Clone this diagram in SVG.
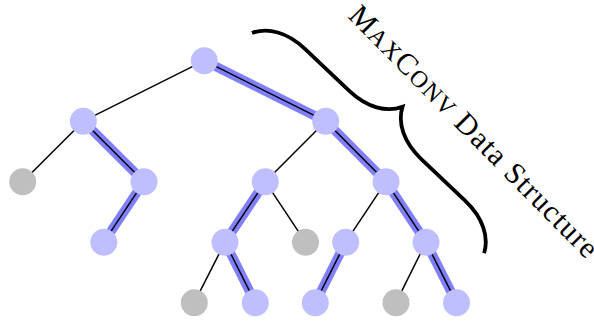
<svg xmlns="http://www.w3.org/2000/svg" width="594" height="322" viewBox="0 0 594 322">
<style>
.hl{stroke:#8080FF;stroke-width:9.5;fill:none}
.e{stroke:#000;stroke-width:1.5;fill:none}
.n{fill:#BFBFFF}
.g{fill:#BFBFBF}
.brace{stroke:#000;stroke-width:3.8;fill:none;stroke-linecap:butt;stroke-linejoin:miter}
.lbl{font-family:"Liberation Serif","Times New Roman",serif;font-size:30px;fill:#000}
.sc{font-size:24px}
</style>
<g id="connectors">
  <g id="highlights">
    <line class="hl" x1="204.3" y1="60.7" x2="325.7" y2="121.2"/>
    <line class="hl" x1="83.3" y1="121.2" x2="144" y2="181.7"/>
    <line class="hl" x1="144" y1="181.7" x2="103.8" y2="242.2"/>
    <line class="hl" x1="325.7" y1="121.2" x2="386" y2="181.7"/>
    <line class="hl" x1="265.3" y1="181.7" x2="225" y2="242.2"/>
    <line class="hl" x1="225" y1="242.2" x2="255.3" y2="302.7"/>
    <line class="hl" x1="386" y1="181.7" x2="426" y2="242.2"/>
    <line class="hl" x1="345.7" y1="242.2" x2="315.3" y2="302.7"/>
    <line class="hl" x1="426" y1="242.2" x2="456.5" y2="302.7"/>
  </g>
  <line class="e" x1="204.3" y1="60.7" x2="83.3" y2="121.2"/>
  <line class="e" x1="204.3" y1="60.7" x2="325.7" y2="121.2"/>
  <line class="e" x1="83.3" y1="121.2" x2="22.7" y2="181.7"/>
  <line class="e" x1="83.3" y1="121.2" x2="144" y2="181.7"/>
  <line class="e" x1="144" y1="181.7" x2="103.8" y2="242.2"/>
  <line class="e" x1="325.7" y1="121.2" x2="265.3" y2="181.7"/>
  <line class="e" x1="325.7" y1="121.2" x2="386" y2="181.7"/>
  <line class="e" x1="265.3" y1="181.7" x2="225" y2="242.2"/>
  <line class="e" x1="265.3" y1="181.7" x2="305.5" y2="242.2"/>
  <line class="e" x1="225" y1="242.2" x2="194.3" y2="302.7"/>
  <line class="e" x1="225" y1="242.2" x2="255.3" y2="302.7"/>
  <line class="e" x1="386" y1="181.7" x2="345.7" y2="242.2"/>
  <line class="e" x1="386" y1="181.7" x2="426" y2="242.2"/>
  <line class="e" x1="345.7" y1="242.2" x2="315.3" y2="302.7"/>
  <line class="e" x1="426" y1="242.2" x2="396" y2="302.7"/>
  <line class="e" x1="426" y1="242.2" x2="456.5" y2="302.7"/>
</g>
<g id="n-root"><circle class="n" cx="204.3" cy="60.7" r="13.5"/></g>
<g id="n-l"><circle class="n" cx="83.3" cy="121.2" r="13.5"/></g>
<g id="n-r"><circle class="n" cx="325.7" cy="121.2" r="13.5"/></g>
<g id="n-ll"><circle class="g" cx="22.7" cy="181.7" r="13.5"/></g>
<g id="n-lr"><circle class="n" cx="144" cy="181.7" r="13.5"/></g>
<g id="n-rl"><circle class="n" cx="265.3" cy="181.7" r="13.5"/></g>
<g id="n-rr"><circle class="n" cx="386" cy="181.7" r="13.5"/></g>
<g id="n-lrl"><circle class="n" cx="103.8" cy="242.2" r="13.5"/></g>
<g id="n-rll"><circle class="n" cx="225" cy="242.2" r="13.5"/></g>
<g id="n-rlr"><circle class="g" cx="305.5" cy="242.2" r="13.5"/></g>
<g id="n-rrl"><circle class="n" cx="345.7" cy="242.2" r="13.5"/></g>
<g id="n-rrr"><circle class="n" cx="426" cy="242.2" r="13.5"/></g>
<g id="n-rlll"><circle class="g" cx="194.3" cy="302.7" r="13.5"/></g>
<g id="n-rllr"><circle class="n" cx="255.3" cy="302.7" r="13.5"/></g>
<g id="n-rrll"><circle class="n" cx="315.3" cy="302.7" r="13.5"/></g>
<g id="n-rrrl"><circle class="g" cx="396" cy="302.7" r="13.5"/></g>
<g id="n-rrrr"><circle class="n" cx="456.5" cy="302.7" r="13.5"/></g>
<g id="brace">
  <path class="brace" transform="translate(252,33) rotate(43.5)" d="M0,0 C7.5,-15 25,-25 50,-25 L110,-25 C135,-25 152.5,-35 160,-50 C167.5,-35 185,-25 210,-25 L270,-25 C295,-25 312.5,-15 320,0"/>
</g>
<g id="label">
  <text class="lbl" transform="translate(347,17) rotate(45.4)" textLength="341" lengthAdjust="spacing">M<tspan class="sc">AX</tspan>C<tspan class="sc">ONV</tspan> Data Structure</text>
</g>
</svg>
